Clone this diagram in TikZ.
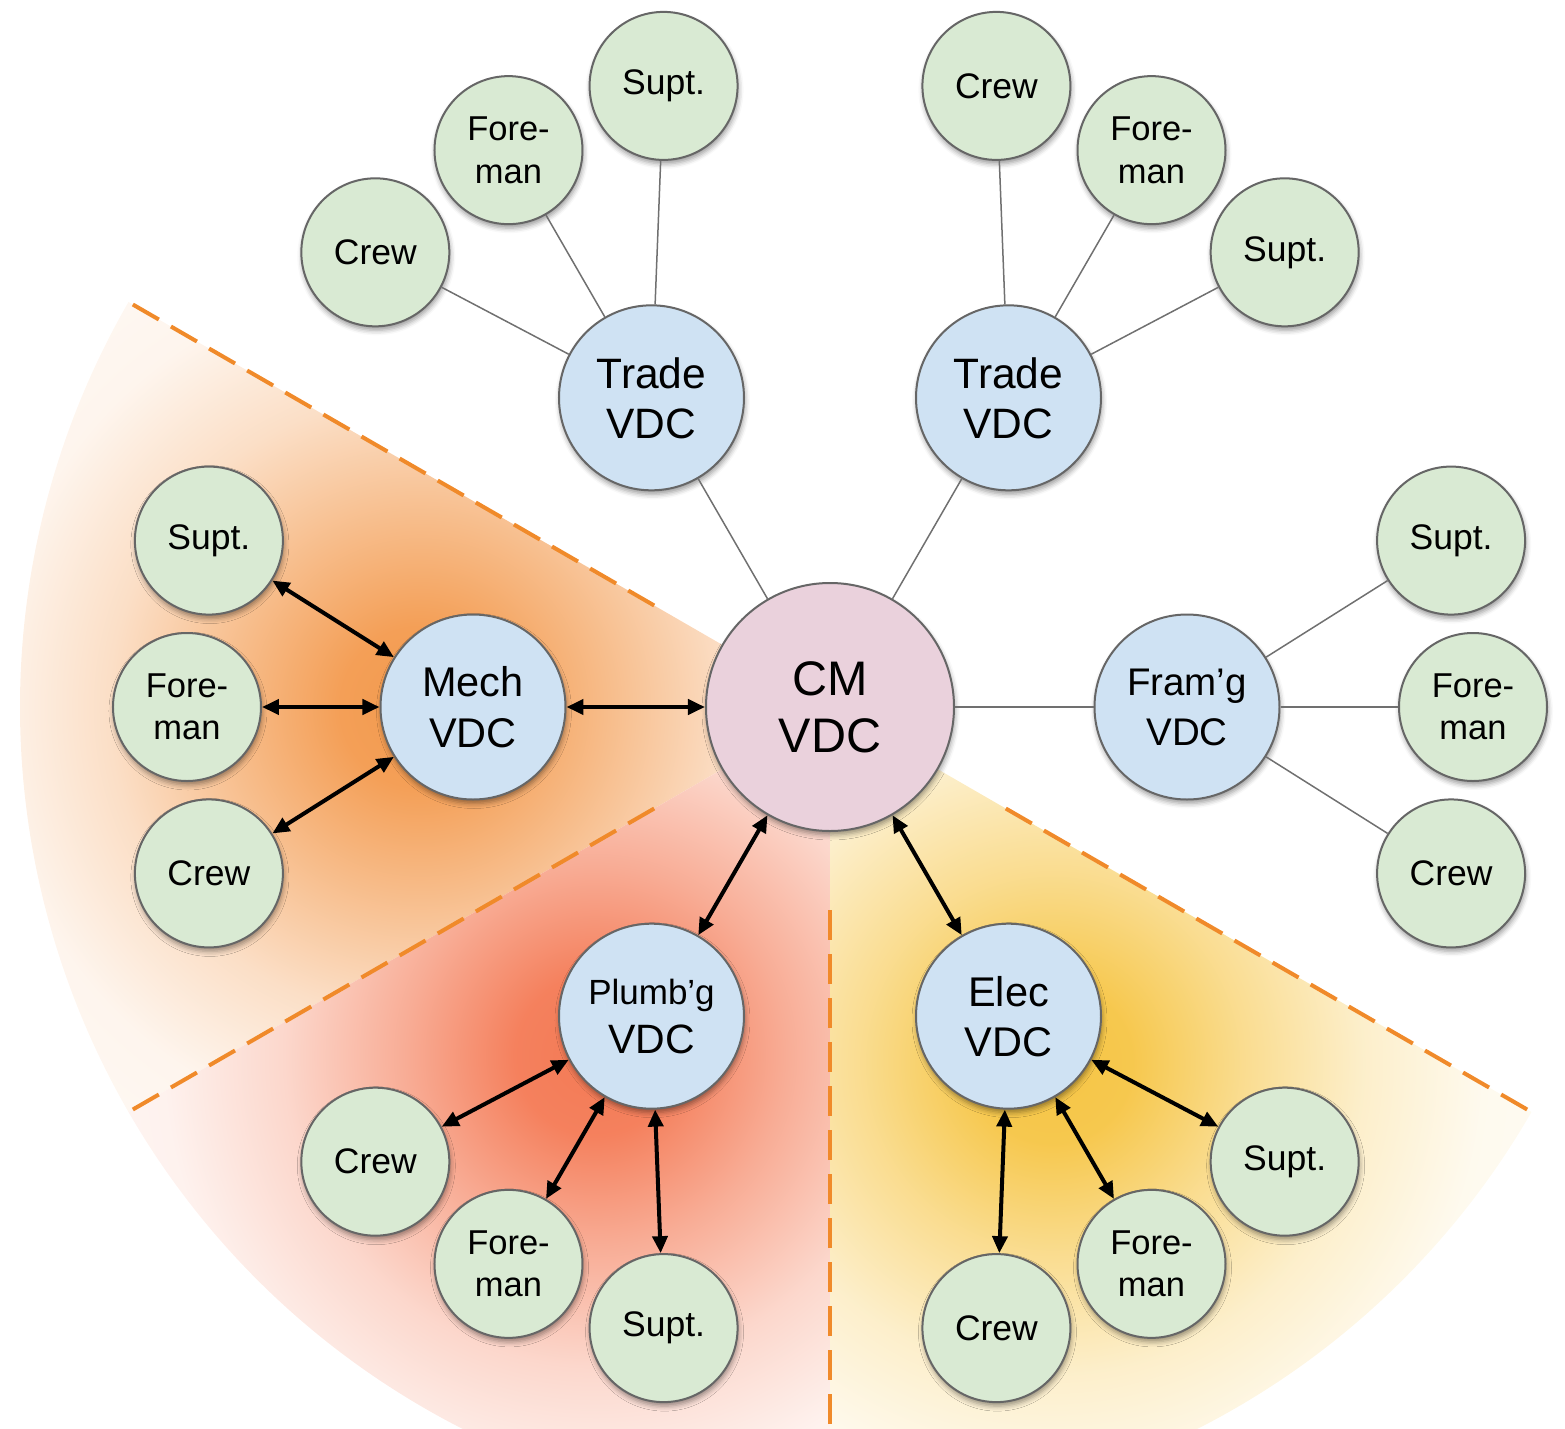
\documentclass[tikz,border=0pt]{standalone}
\usepackage{fontspec}
\setmainfont{Liberation Sans}
\usetikzlibrary{arrows.meta,shadows.blur}
\definecolor{gfill}{HTML}{D9EAD3}
\definecolor{bfill}{HTML}{CFE2F3}
\definecolor{pfill}{HTML}{EAD1DC}
\definecolor{bord}{HTML}{666666}
\definecolor{lgray}{HTML}{707070}
\definecolor{dorange}{HTML}{F08A2A}
\definecolor{mechc}{HTML}{F39A4E}
\definecolor{plumc}{HTML}{F47A55}
\definecolor{elecc}{HTML}{F6C545}
\pgfdeclareradialshading{mechsh}{\pgfpointorigin}{color(0bp)=(mechc); color(80bp)=(mechc!95); color(190bp)=(mechc!65); color(310bp)=(mechc!32); color(430bp)=(mechc!10); color(650bp)=(mechc!3)}
\pgfdeclareradialshading{plumsh}{\pgfpointorigin}{color(0bp)=(plumc); color(80bp)=(plumc!95); color(190bp)=(plumc!62); color(310bp)=(plumc!30); color(430bp)=(plumc!10); color(650bp)=(plumc!3)}
\pgfdeclareradialshading{elecsh}{\pgfpointorigin}{color(0bp)=(elecc); color(80bp)=(elecc!95); color(190bp)=(elecc!60); color(310bp)=(elecc!28); color(430bp)=(elecc!9); color(650bp)=(elecc!3)}
\tikzset{
  circ/.style={circle, draw=bord, line width=2pt, inner sep=0pt, align=center,
    blur shadow={shadow xshift=1pt, shadow yshift=-4pt, shadow blur radius=5pt, shadow opacity=40}},
  grn/.style={circ, fill=gfill, minimum size=148pt, font=\fontsize{35.5}{42}\selectfont},
  grnf/.style={circ, fill=gfill, minimum size=148pt, font=\fontsize{34.5}{42.5}\selectfont},
  vdc/.style={circ, fill=bfill, minimum size=185pt},
  cmnode/.style={circ, fill=pfill, minimum size=248pt, font=\fontsize{48.5}{57}\selectfont},
  gline/.style={draw=lgray, line width=1.5pt},
  arr/.style={line width=4pt, {Triangle[length=17pt,width=15pt]}-{Triangle[length=17pt,width=15pt]}},
  dline/.style={draw=dorange, line width=4pt, dash pattern=on 30pt off 14pt},
}
\begin{document}
\begin{tikzpicture}[x=1pt,y=1pt]
\useasboundingbox (-830,-721) rectangle (735,707);
% sectors
\begin{scope}
  \clip (0,0) -- (150:810pt) arc[start angle=150,end angle=210,radius=810pt] -- cycle;
  \node[inner sep=0pt,outer sep=0pt] at (180:410pt) {\pgfuseshading{mechsh}};
\end{scope}
\begin{scope}
  \clip (0,0) -- (210:810pt) arc[start angle=210,end angle=270,radius=810pt] -- cycle;
  \node[inner sep=0pt,outer sep=0pt] at (236:420pt) {\pgfuseshading{plumsh}};
\end{scope}
\begin{scope}
  \clip (0,0) -- (270:810pt) arc[start angle=270,end angle=330,radius=810pt] -- cycle;
  \node[inner sep=0pt,outer sep=0pt] at (302:420pt) {\pgfuseshading{elecsh}};
\end{scope}
\draw[dline] (150:805pt) -- (150:200pt);
\draw[dline] (210:805pt) -- (210:200pt);
\draw[dline] (270:805pt) -- (270:203pt);
\draw[dline] (330:805pt) -- (330:200pt);
% central node
\node[cmnode] (cm) at (0,0) {CM\\VDC};
% VDC nodes
\node[vdc, font=\fontsize{42.5}{50}\selectfont] (t1) at (120:357pt) {Trade\\VDC};
\node[vdc, font=\fontsize{42.5}{50}\selectfont] (t2) at (60:357pt) {Trade\\VDC};
\node[vdc, font=\fontsize{41.5}{51}\selectfont] (me) at (180:357pt) {Mech\\VDC};
\node[vdc, font=\fontsize{38.5}{50}\selectfont] (fr) at (0:357pt) {Fram’g\\VDC};
\node[vdc, font=\fontsize{41}{49}\selectfont] (pl) at (240:357pt) {{\fontsize{35}{49}\selectfont Plumb’g}\\VDC};
\node[vdc, font=\fontsize{41.5}{50}\selectfont] (el) at (300:357pt) {Elec\\VDC};
% green nodes
\node[grn] (t1s) at (105:643pt) {Supt.};
\node[grnf] (t1f) at (120:643pt) {Fore-\\man};
\node[grn] (t1c) at (135:643pt) {Crew};
\node[grn] (t2c) at (75:643pt) {Crew};
\node[grnf] (t2f) at (60:643pt) {Fore-\\man};
\node[grn] (t2s) at (45:643pt) {Supt.};
\node[grn] (mes) at (165:643pt) {Supt.};
\node[grnf] (mef) at (180:643pt) {Fore-\\man};
\node[grn] (mec) at (195:643pt) {Crew};
\node[grn] (frs) at (15:643pt) {Supt.};
\node[grnf] (frf) at (0:643pt) {Fore-\\man};
\node[grn] (frc) at (-15:643pt) {Crew};
\node[grn] (els) at (-45:643pt) {Supt.};
\node[grnf] (elf) at (-60:643pt) {Fore-\\man};
\node[grn] (elc) at (-75:643pt) {Crew};
\node[grn] (plc) at (-135:643pt) {Crew};
\node[grnf] (plf) at (-120:643pt) {Fore-\\man};
\node[grn] (pls) at (-105:643pt) {Supt.};
% gray connectors
\draw[gline] (cm) -- (t1);
\draw[gline] (cm) -- (t2);
\draw[gline] (cm) -- (fr);
\draw[gline] (t1) -- (t1s);
\draw[gline] (t1) -- (t1f);
\draw[gline] (t1) -- (t1c);
\draw[gline] (t2) -- (t2s);
\draw[gline] (t2) -- (t2f);
\draw[gline] (t2) -- (t2c);
\draw[gline] (fr) -- (frs);
\draw[gline] (fr) -- (frf);
\draw[gline] (fr) -- (frc);
% arrows
\draw[arr] (cm) -- (me);
\draw[arr] (cm) -- (pl);
\draw[arr] (cm) -- (el);
\draw[arr] (me) -- (mes);
\draw[arr] (me) -- (mef);
\draw[arr] (me) -- (mec);
\draw[arr] (pl) -- (plc);
\draw[arr] (pl) -- (plf);
\draw[arr] (pl) -- (pls);
\draw[arr] (el) -- (els);
\draw[arr] (el) -- (elf);
\draw[arr] (el) -- (elc);
\end{tikzpicture}
\end{document}
